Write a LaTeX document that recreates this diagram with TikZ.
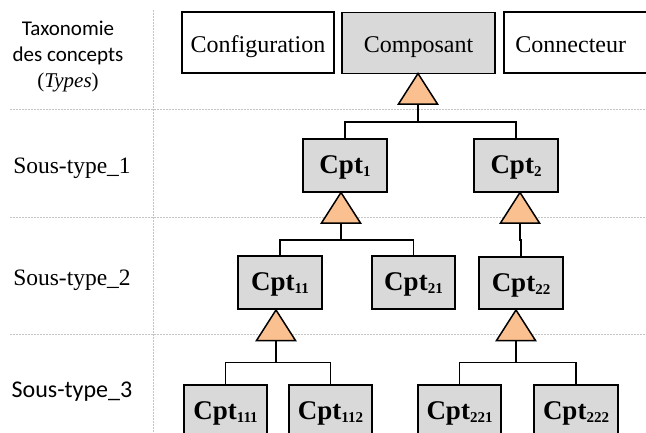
\documentclass[tikz,border=0pt]{standalone}
\usepackage{fontspec}
\setmainfont{Liberation Serif}
\newfontfamily\calib{Carlito}
\definecolor{boxgray}{HTML}{D9D9D9}
\definecolor{triorange}{HTML}{FAC090}
\definecolor{gridgray}{HTML}{C4C4C4}
\newcommand\sbx[1]{\raisebox{-0.12em}{\fontsize{15}{15}\selectfont #1}}
\newcommand\tri[3]{%
  \filldraw[tri] (#2,#3) -- ++(19.5,30.5) -- ++(-39,0) -- cycle;
  \coordinate (#1) at (#2,#3+30.5);}
\begin{document}
\begin{tikzpicture}[x=1pt,y=-1pt,
  tbox/.style={draw, line width=1.5pt, minimum height=61pt, inner sep=0pt,
    text height=19pt, text depth=0pt, font=\fontsize{24}{24}\selectfont},
  cbox/.style={draw, line width=1.5pt, fill=boxgray, minimum width=84pt,
    minimum height=53pt, inner sep=0pt, text height=16pt, text depth=0pt,
    font=\fontsize{27}{27}\selectfont\bfseries},
  tri/.style={draw=black, fill=triorange, line width=1.5pt, line join=miter},
  link/.style={line width=1.6pt},
  gridline/.style={draw=gridgray, line width=0.6pt, dash pattern=on 2pt off 1pt},
  lab/.style={inner sep=0pt, align=center}]
\useasboundingbox (0,0) rectangle (646,432);
\begin{scope}
\clip (0,0) rectangle (646,432);
% grid
\coordinate (g1a) at (10,109); \coordinate (g1b) at (646,109);
\coordinate (g2a) at (10,217); \coordinate (g2b) at (646,217);
\coordinate (g3a) at (10,334); \coordinate (g3b) at (646,334);
\coordinate (gva) at (153,10); \coordinate (gvb) at (153,432);
\draw[gridline] (g1a) -- (g1b);
\draw[gridline] (g2a) -- (g2b);
\draw[gridline] (g3a) -- (g3b);
\draw[gridline] (gva) -- (gvb);
% left labels
\node[lab, font=\calib\fontsize{21}{26}\selectfont] (taxo) at (68,57)
  {Taxonomie\\des concepts\\{\fontsize{21}{26}\selectfont\rmfamily(\textit{Types})}};
\node[lab, font=\fontsize{23.5}{24}\selectfont] (st1) at (72,168) {Sous-type\_1};
\node[lab, font=\fontsize{23.5}{24}\selectfont] (st2) at (72,280) {Sous-type\_2};
\node[lab, font=\calib\fontsize{24}{24}\selectfont] (st3) at (72,392) {Sous-type\_3};
% top boxes
\node[tbox, minimum width=152pt] (conf) at (258,42.5) {Configuration};
\node[tbox, minimum width=153pt, fill=boxgray] (comp) at (418.5,43) {Composant};
\node[tbox, minimum width=160pt, anchor=west] (conn) at (503,42.5) {\hspace*{-13pt}Connecteur\hspace*{13pt}};
% Cpt boxes
\node[cbox] (cpt1) at (345,165.5) {Cpt\sbx{1}};
\node[cbox] (cpt2) at (516,165.5) {Cpt\sbx{2}};
\node[cbox] (cpt11) at (280,282.5) {Cpt\sbx{11}};
\node[cbox, minimum width=83pt] (cpt21) at (413.5,282.5) {Cpt\sbx{21}};
\node[cbox, minimum height=52pt] (cpt22) at (521,283) {Cpt\sbx{22}};
\node[cbox, minimum width=83pt] (cpt111) at (225.5,411.5) {Cpt\sbx{111}};
\node[cbox, minimum width=83pt] (cpt112) at (330.5,411.5) {Cpt\sbx{112}};
\node[cbox, minimum width=83pt] (cpt221) at (459.5,411.5) {Cpt\sbx{221}};
\node[cbox] (cpt222) at (576,411.5) {Cpt\sbx{222}};
% triangles
\tri{t0}{418}{73.5}
\tri{t1}{341}{192.5}
\tri{t2}{520}{192.5}
\tri{t11}{276}{310}
\tri{t22}{516}{310}
% connectors
\draw[link] (t0) -- ++(0,18) coordinate (j0);
\draw[link] (cpt1.north) |- (j0) -| (cpt2.north);
\draw[link] (t1) -- ++(0,17) coordinate (j1);
\draw[link] (cpt11.north) |- (j1) -| (cpt21.north);
\draw[link] (t2) -- ++(0,17) -| (cpt22.north);
\draw[link] (t11) -- ++(0,22) coordinate (j11);
\draw[link] (cpt111.north) |- (j11) -| (cpt112.north);
\draw[link] (t22) -- ++(0,22) coordinate (j22);
\draw[link] (cpt221.north) |- (j22) -| (cpt222.north);
\end{scope}
\end{tikzpicture}
\end{document}
